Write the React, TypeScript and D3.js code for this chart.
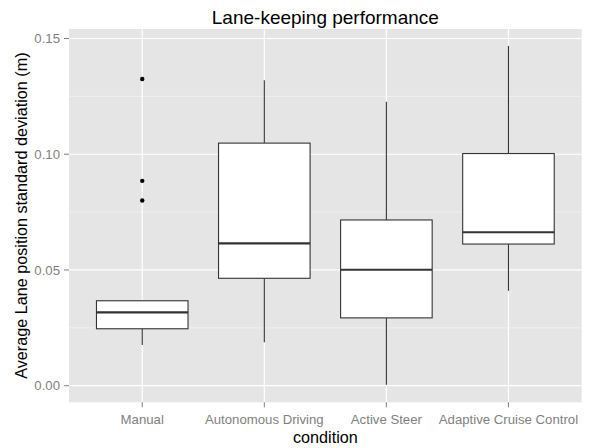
import React from "react";
import * as d3 from "d3";

const categories = ["Manual", "Autonomous Driving", "Active Steer", "Adaptive Cruise Control"];
const lowerWhisker = [0.0176, 0.0188, 0.0004, 0.041];
const q1 = [0.0246, 0.0464, 0.0293, 0.0612];
const medians = [0.0317, 0.0615, 0.0501, 0.0663];
const q3 = [0.0367, 0.1048, 0.0716, 0.1003];
const upperWhisker = [0.0367, 0.132, 0.1227, 0.1468];
const outlierCategory = ["Manual", "Manual", "Manual"];
const outlierValues = [0.1325, 0.0885, 0.08];
const yTicks = [0, 0.05, 0.1, 0.15];
const yMinor = [0.025, 0.075, 0.125];

export default function App() {
  const W = 589, H = 448;
  const left = 69, right = 581.7, top = 29, bottom = 402.3;
  const y = d3.scaleLinear().domain([-0.00717, 0.1541]).range([bottom, top]);
  const x = d3.scalePoint<string>().domain(categories).range([left, right]).padding(0.6);
  const step = x.step();
  const bw = step * 0.75;
  const fmt = d3.format(".2f");
  const ink = "#333333";
  return (
    <svg width={W} height={H} style={{ position: "absolute", left: 0, top: 0, fontFamily: "Liberation Sans, Arial, sans-serif" }}>
      <rect x={0} y={0} width={W} height={H} fill="#ffffff" />
      <rect x={left} y={top} width={right - left} height={bottom - top} fill="#E5E5E5" />
      {yMinor.map((v) => (
        <line key={"m" + v} x1={left} x2={right} y1={y(v)} y2={y(v)} stroke="#F2F2F2" strokeWidth={0.8} />
      ))}
      {yTicks.map((v) => (
        <line key={"g" + v} x1={left} x2={right} y1={y(v)} y2={y(v)} stroke="#ffffff" strokeWidth={1.2} />
      ))}
      {categories.map((c) => (
        <line key={"v" + c} x1={x(c)} x2={x(c)} y1={top} y2={bottom} stroke="#ffffff" strokeWidth={1.2} />
      ))}
      {categories.map((c, i) => {
        const cx = x(c) as number;
        return (
          <g key={c}>
            <line x1={cx} x2={cx} y1={y(q3[i])} y2={y(upperWhisker[i])} stroke={ink} strokeWidth={1.1} />
            <line x1={cx} x2={cx} y1={y(q1[i])} y2={y(lowerWhisker[i])} stroke={ink} strokeWidth={1.1} />
            <rect x={cx - bw / 2} y={y(q3[i])} width={bw} height={y(q1[i]) - y(q3[i])} fill="#ffffff" stroke={ink} strokeWidth={1.1} />
            <line x1={cx - bw / 2} x2={cx + bw / 2} y1={y(medians[i])} y2={y(medians[i])} stroke={ink} strokeWidth={2.2} />
          </g>
        );
      })}
      {outlierValues.map((v, i) => (
        <circle key={"o" + i} cx={x(outlierCategory[i]) as number} cy={y(v)} r={2.2} fill="#000000" />
      ))}
      {yTicks.map((v) => (
        <g key={"t" + v}>
          <line x1={left - 5} x2={left} y1={y(v)} y2={y(v)} stroke="#7F7F7F" strokeWidth={1} />
          <text x={left - 9} y={y(v)} dy="0.35em" textAnchor="end" fontSize={13.2} fill="#7F7F7F">{fmt(v)}</text>
        </g>
      ))}
      {categories.map((c) => (
        <g key={"xt" + c}>
          <line x1={x(c)} x2={x(c)} y1={bottom} y2={bottom + 5} stroke="#7F7F7F" strokeWidth={1} />
          <text x={x(c)} y={424} textAnchor="middle" fontSize={13.2} fill="#7F7F7F">{c}</text>
        </g>
      ))}
      <text x={(left + right) / 2} y={442.5} textAnchor="middle" fontSize={16.2} fill="#000000">condition</text>
      <text transform={`translate(26.7,${(top + bottom) / 2}) rotate(-90)`} textAnchor="middle" fontSize={16.2} fill="#000000">Average Lane position standard deviation (m)</text>
      <text x={(left + right) / 2} y={24} textAnchor="middle" fontSize={19} fill="#000000">Lane-keeping performance</text>
    </svg>
  );
}
